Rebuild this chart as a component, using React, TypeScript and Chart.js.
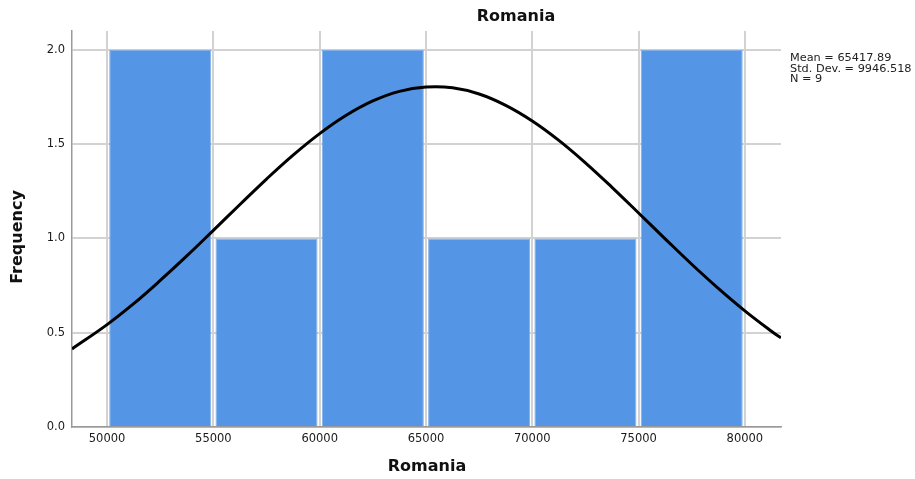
import React, { useEffect, useRef } from 'react';
import { Chart, registerables } from 'chart.js';

Chart.register(...registerables);

// ---- data ----
const binCenters = [52500, 57500, 62500, 67500, 72500, 77500];
const frequencies = [2, 1, 2, 1, 1, 2];
const curveX = [48350, 50000, 51250, 52500, 53750, 55000, 56250, 57500, 58750, 60000, 61250, 62500, 63750, 65000, 66250, 67500, 68750, 70000, 71250, 72500, 73750, 75000, 76250, 77500, 78750, 80000, 81250, 81700];
const curveY = [0.414, 0.543, 0.654, 0.777, 0.907, 1.043, 1.180, 1.315, 1.442, 1.556, 1.653, 1.729, 1.780, 1.803, 1.799, 1.766, 1.706, 1.623, 1.520, 1.401, 1.271, 1.135, 0.998, 0.863, 0.735, 0.616, 0.508, 0.473];
const xTicks = [50000, 55000, 60000, 65000, 70000, 75000, 80000];
const yTicks = [0, 0.5, 1, 1.5, 2];
const xRange = [48350, 81700];
const yRange = [0, 2.1];
const chartTitle = 'Romania';
const xTitle = 'Romania';
const yTitle = 'Frequency';
const statsLines = ['Mean = 65417.89', 'Std. Dev. = 9946.518', 'N = 9'];

const textPlugin = {
  id: 'spssText',
  afterDraw(chart: any) {
    const ctx = chart.ctx as CanvasRenderingContext2D;
    ctx.save();
    ctx.fillStyle = '#111';
    ctx.textAlign = 'center';
    ctx.textBaseline = 'middle';
    ctx.font = 'bold 16px "DejaVu Sans"';
    ctx.fillText(chartTitle, 516, 17);
    ctx.fillText(xTitle, 427, 467);
    ctx.save();
    ctx.translate(18, 237);
    ctx.rotate(-Math.PI / 2);
    ctx.fillText(yTitle, 0, 0);
    ctx.restore();
    ctx.textAlign = 'left';
    ctx.textBaseline = 'alphabetic';
    ctx.fillStyle = '#222';
    ctx.font = '11.3px "DejaVu Sans"';
    statsLines.forEach((line, i) => {
      ctx.fillText(line, 790, 61 + i * 10.5);
    });
    ctx.restore();
  },
};

export default function App() {
  const ref = useRef<HTMLCanvasElement>(null);
  useEffect(() => {
    if (!ref.current) return;
    const chart = new Chart(ref.current, {
      type: 'bar',
      data: {
        datasets: [
          {
            type: 'line',
            data: curveX.map((x, i) => ({ x, y: curveY[i] })),
            borderColor: '#000',
            borderWidth: 3,
            pointRadius: 0,
            fill: false,
            tension: 0.4,
            order: 0,
          } as any,
          {
            type: 'bar',
            data: binCenters.map((x, i) => ({ x, y: frequencies[i] })),
            backgroundColor: '#5595E5',
            borderColor: '#7FAEEC',
            borderWidth: 1,
            barPercentage: 0.96,
            categoryPercentage: 1,
            order: 1,
          } as any,
        ],
      },
      options: {
        animation: false,
        responsive: false,
        devicePixelRatio: 1,
        layout: { padding: { left: 0, top: 31, right: 134, bottom: 0 } },
        plugins: { legend: { display: false }, tooltip: { enabled: false }, title: { display: false } },
        scales: {
          x: {
            type: 'linear',
            min: xRange[0],
            max: xRange[1],
            offset: false,
            afterBuildTicks: (s: any) => { s.ticks = xTicks.map((value) => ({ value })); },
            afterFit: (s: any) => { s.height = 52; },
            grid: { offset: false, color: '#d2d2d2', lineWidth: 2, drawTicks: false },
            border: { color: '#9a9a9a', width: 1.5 },
            ticks: {
              padding: 5,
              color: '#1a1a1a',
              font: { family: 'DejaVu Sans', size: 11.5 },
              maxRotation: 0,
              autoSkip: false,
              callback: (v: any) => String(v),
            },
          },
          y: {
            type: 'linear',
            min: yRange[0],
            max: yRange[1],
            afterBuildTicks: (s: any) => { s.ticks = yTicks.map((value) => ({ value })); },
            afterFit: (s: any) => { s.width = 72; },
            grid: { color: '#d2d2d2', lineWidth: 2, drawTicks: false },
            border: { color: '#9a9a9a', width: 1.5 },
            ticks: {
              padding: 7,
              color: '#1a1a1a',
              font: { family: 'DejaVu Sans', size: 11.5 },
              callback: (v: any) => Number(v).toFixed(1),
            },
          },
        },
      },
      plugins: [textPlugin],
    } as any);
    return () => chart.destroy();
  }, []);
  return (
    <div style={{ position: 'fixed', left: 0, top: 0, width: 915, height: 479, background: '#fff' }}>
      <canvas ref={ref} width={915} height={479} />
    </div>
  );
}
